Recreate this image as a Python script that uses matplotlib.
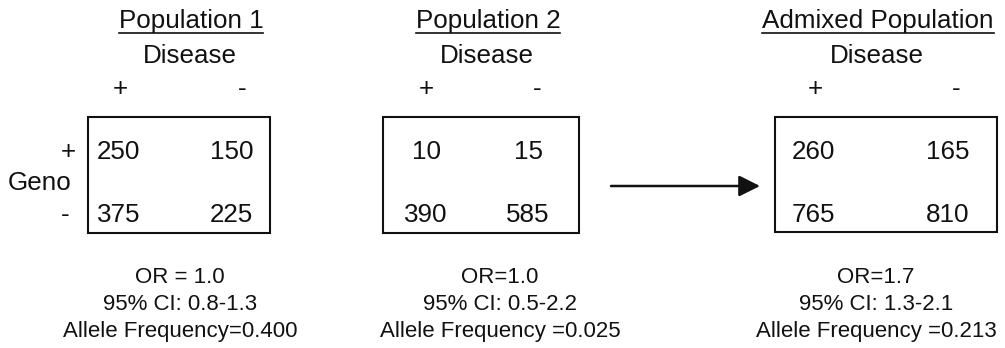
import matplotlib
matplotlib.use('Agg')
import matplotlib.pyplot as plt
from matplotlib.patches import Rectangle

plt.rcParams['font.family'] = ['Liberation Sans', 'DejaVu Sans']

# data
pop_names = ['Population 1', 'Population 2', 'Admixed Population']
counts = [[[250, 150], [375, 225]],
          [[10, 15], [390, 585]],
          [[260, 165], [765, 810]]]
or_text = ['OR = 1.0', 'OR=1.0', 'OR=1.7']
ci_text = ['95% CI: 0.8-1.3', '95% CI: 0.5-2.2', '95% CI: 1.3-2.1']
af_text = ['Allele Frequency=0.400', 'Allele Frequency =0.025', 'Allele Frequency =0.213']
col_labels = ['+', '-']
row_labels = ['+', '-']

# layout (pixel units)
boxes = [(88, 117, 270, 233), (383, 117, 579, 233), (775, 117, 997, 232)]
title_x = [191, 488, 878]
dis_x = [190, 487, 877]
head_x = [(120, 242), (426, 537), (815, 956)]
cell_x = [(97, 253), (426, 528), (792, 969)]
cell_ha = [('left', 'right'), ('center', 'center'), ('left', 'right')]
info_x = [180, 500, 876]
row_y = [159, 222]

big = 18.7
small = 16
col = '#111111'

fig = plt.figure(figsize=(10.05, 3.48), dpi=100)
ax = fig.add_axes([0, 0, 1, 1])
ax.set_xlim(0, 1005)
ax.set_ylim(348, 0)
ax.axis('off')

titles = []
for i in range(3):
    t = ax.text(title_x[i], 28, pop_names[i], ha='center', va='baseline', fontsize=big, color=col)
    titles.append(t)
    ax.text(dis_x[i], 63, 'Disease', ha='center', va='baseline', fontsize=big, color=col)
    for j in range(2):
        ax.text(head_x[i][j], 96, col_labels[j], ha='center', va='baseline', fontsize=big, color=col)
    x0, y0, x1, y1 = boxes[i]
    ax.add_patch(Rectangle((x0, y0), x1 - x0, y1 - y0, fill=False, lw=1.5, ec=col))
    for r in range(2):
        for c in range(2):
            ax.text(cell_x[i][c], row_y[r], str(counts[i][r][c]), ha=cell_ha[i][c],
                    va='baseline', fontsize=big, color=col)
    ax.text(info_x[i], 283, or_text[i], ha='center', va='baseline', fontsize=small, color=col)
    ax.text(info_x[i], 310, ci_text[i], ha='center', va='baseline', fontsize=small, color=col)
    ax.text(info_x[i], 337, af_text[i], ha='center', va='baseline', fontsize=small, color=col)

# row labels for first table
ax.text(68, row_y[0], row_labels[0], ha='center', va='baseline', fontsize=big, color=col)
ax.text(65, row_y[1], row_labels[1], ha='center', va='baseline', fontsize=big, color=col)
ax.text(8, 190, 'Geno', ha='left', va='baseline', fontsize=big, color=col)

# arrow
ax.annotate('', xy=(760, 186), xytext=(611, 186),
            arrowprops=dict(arrowstyle='-|>', lw=1.8, color=col, mutation_scale=32,
                            shrinkA=0, shrinkB=0))

# underline titles
fig.canvas.draw()
inv = ax.transData.inverted()
for t in titles:
    bb = t.get_window_extent()
    (xa, _), (xb, _) = inv.transform([(bb.x0, bb.y0), (bb.x1, bb.y0)])
    ax.plot([xa, xb], [33, 33], color=col, lw=1.2)

fig.savefig('out.png', dpi=100)
